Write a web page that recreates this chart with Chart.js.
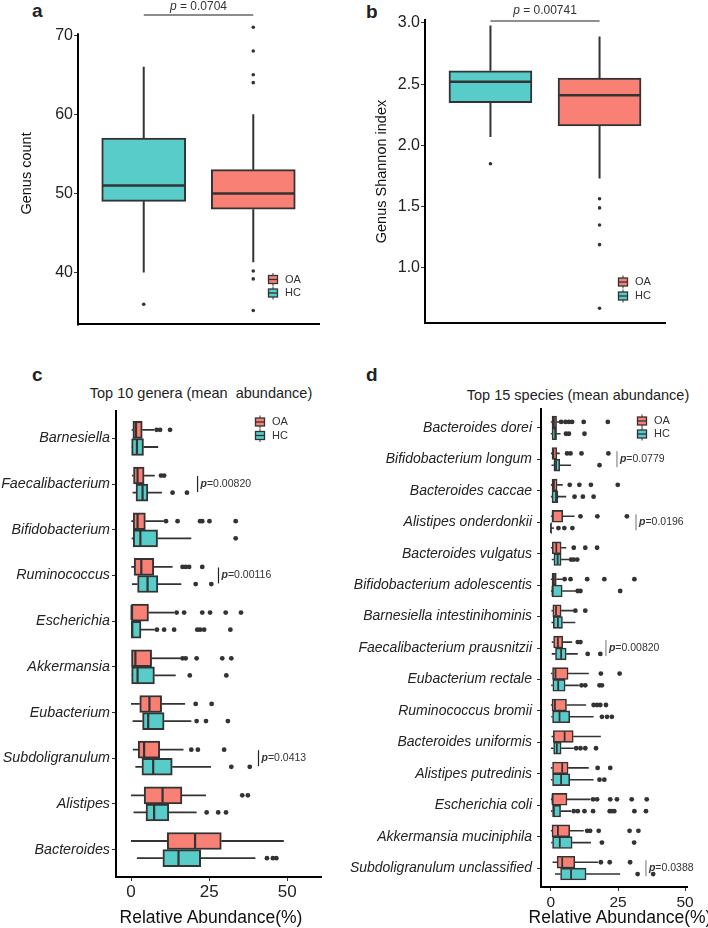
<!DOCTYPE html>
<html>
<head>
<meta charset="utf-8">
<script src="https://cdn.jsdelivr.net/npm/chart.js@4.4.1/dist/chart.umd.min.js"></script>
<style>
  body { margin: 0; width: 708px; height: 928px; background: #fff; position: relative; overflow: hidden;
         font-family: "Liberation Sans", Arial, Helvetica, sans-serif; color: #222; }
  canvas { position: absolute; }
  .letter { position: absolute; font-weight: bold; font-size: 19px; line-height: 20px; }
  .title { position: absolute; font-size: 14.5px; line-height: 16px; white-space: pre; transform: translateX(-50%); }
  .xtitle { position: absolute; font-size: 17.5px; line-height: 18px; white-space: pre; transform: translateX(-50%); color: #111; }
</style>
</head>
<body>
<div class="letter" style="left:32px;top:1px">a</div>
<div class="letter" style="left:366px;top:2px">b</div>
<div class="letter" style="left:32px;top:365px">c</div>
<div class="letter" style="left:366px;top:365px">d</div>
<div class="title" style="left:201px;top:385px">Top 10 genera (mean  abundance)</div>
<div class="title" style="left:578px;top:387px">Top 15 species (mean abundance)</div>

<canvas id="chartA" width="354" height="335" style="left:0;top:0"></canvas>
<canvas id="chartB" width="354" height="335" style="left:354px;top:0"></canvas>
<canvas id="chartC" width="330" height="588" style="left:0;top:340px"></canvas>
<canvas id="chartD" width="378" height="588" style="left:330px;top:340px"></canvas>

<div class="xtitle" style="left:211px;top:908px">Relative Abundance(%)</div>
<div class="xtitle" style="left:620px;top:908px">Relative Abundance(%)</div>

<script>
// ---- panel a: genus count (HC, OA) ----
const countLo  = [40, 41.3];
const countQ1  = [49, 48];
const countMed = [51, 50];
const countQ3  = [57, 53];
const countHi  = [66, 60];
const countOut = [[36], [71, 68, 65, 64, 40.2, 39.2, 35.2]];

// ---- panel b: genus Shannon index (HC, OA) ----
const shannonLo  = [2.07, 1.73];
const shannonQ1  = [2.35, 2.16];
const shannonMed = [2.52, 2.41];
const shannonQ3  = [2.61, 2.55];
const shannonHi  = [2.98, 2.89];
const shannonOut = [[1.85], [1.565, 1.49, 1.35, 1.19, 0.67]];

// ---- panel c: top 10 genera ----
const genera = ['Barnesiella', 'Faecalibacterium', 'Bifidobacterium', 'Ruminococcus', 'Escherichia',
  'Akkermansia', 'Eubacterium', 'Subdoligranulum', 'Alistipes', 'Bacteroides'];
const genOALo  = [0.2, 0.3, 0.1, 0.1, 0, 0, 0, 0.6, 0, 0];
const genOAQ1  = [0.6, 0.8, 0.7, 1.0, 0, 0, 2.8, 2.3, 4.2, 11.6];
const genOAMed = [1.6, 2.1, 2.1, 3.3, 0.2, 1.4, 5.9, 4.2, 10.1, 20.5];
const genOAQ3  = [3.6, 4.2, 4.6, 7.3, 5.6, 6.6, 9.8, 9.2, 16.3, 28.9];
const genOAHi  = [7.4, 7.6, 10.5, 13.3, 13.8, 15.9, 17.3, 16.8, 24.0, 48.9];
const genOAOut = [[8.2, 9.3, 12.5], [9.6, 10.6], [11.2, 14.9, 22.1, 22.8, 25.1, 33.5], [16.5, 17.5, 18.6, 22.8],
  [14.6, 17.0, 22.8, 25.3, 30.3, 35.2], [16.5, 17.5, 21.0, 29.2, 32.1], [20.7, 25.8], [19.3, 21.4, 29.8], [35.6, 37.4], []];
const genHCLo  = [0.1, 0.5, 0.2, 0.3, 0, 0.1, 0.5, 1.4, 0.8, 1.9];
const genHCQ1  = [0.2, 1.6, 0.7, 2.1, 0.1, 0.2, 3.7, 3.5, 4.8, 10.2];
const genHCMed = [1.9, 3.7, 3.0, 5.3, 0.4, 2.1, 5.5, 7.1, 7.4, 15.2];
const genHCQ3  = [4.0, 5.4, 8.5, 8.6, 3.2, 7.5, 10.6, 13.2, 12.1, 22.3];
const genHCHi  = [8.7, 9.9, 19.3, 16.1, 7.6, 14.3, 19.3, 25.6, 21.0, 39.8];
const genHCOut = [[], [13.3, 17.9], [33.5], [20.7, 25.7], [8.3, 10.6, 13.8, 21.2, 22.1, 23.4, 31.8],
  [18.8, 30.5], [21.0, 24.0, 31.0], [32.1, 38.0], [24.2, 27.9, 30.4], [43.5, 45.4, 46.5]];
const genP = [{cat: 2, at: 21.3, p: '0.00820'}, {cat: 4, at: 28.0, p: '0.00116'}, {cat: 8, at: 40.8, p: '0.0413'}];

// ---- panel d: top 15 species ----
const species = ['Bacteroides dorei', 'Bifidobacterium longum', 'Bacteroides caccae', 'Alistipes onderdonkii',
  'Bacteroides vulgatus', 'Bifidobacterium adolescentis', 'Barnesiella intestinihominis',
  'Faecalibacterium prausnitzii', 'Eubacterium rectale', 'Ruminococcus bromii', 'Bacteroides uniformis',
  'Alistipes putredinis', 'Escherichia coli', 'Akkermansia muciniphila', 'Subdoligranulum unclassified'];
const spOALo  = [0, 0, 0, 0, 0, 0, 0.2, 0.3, 0, 0, 0.2, 0, 0, 0, 0.6];
const spOAQ1  = [0.4, 0.4, 0.4, 0.4, 0.5, 0.4, 0.7, 1.0, 0.6, 0.4, 0.9, 0.6, 0.4, 0.4, 2.3];
const spOAMed = [1.1, 0.9, 1.1, 0.7, 2.0, 1.1, 1.9, 2.6, 1.7, 1.5, 5.1, 4.2, 0.6, 2.6, 4.2];
const spOAQ3  = [2.1, 2.2, 2.3, 4.4, 3.8, 2.0, 3.8, 4.4, 6.4, 5.8, 8.3, 6.4, 6.0, 7.0, 8.9];
const spOAHi  = [3.6, 3.3, 4.4, 8.8, 5.7, 4.3, 8.5, 7.9, 14.1, 13.1, 18.6, 14.1, 14.7, 12.2, 17.5];
const spOAOut = [[3.8, 5.4, 6.7, 7.9, 12.2, 21.2], [6.0, 7.3, 11.4, 21.4], [7.0, 10.6, 14.9, 24.9], [11.0, 17.3, 28.3],
  [8.5, 12.8, 17.2], [5.1, 7.3, 13.5, 19.9, 31.1], [9.1, 12.8], [10.0, 11.0], [18.6, 25.6], [15.9, 17.2, 18.4, 20.5],
  [], [17.4, 22.1], [15.7, 17.2, 22.1, 24.6, 30.1, 35.7], [13.5, 14.6, 17.8, 29.3, 32.6], [18.6, 21.9, 29.5]];
const spHCLo  = [0, 0.2, 0, 0, 0.3, 0, 0.2, 0.3, 0.1, 0.1, 0, 0, 0, 0.1, 1.5];
const spHCQ1  = [0.4, 1.1, 0.4, 0, 1.1, 0.4, 0.9, 1.7, 0.7, 0.6, 1.0, 0.6, 0.6, 0.6, 3.6];
const spHCMed = [1.6, 1.9, 1.9, 0, 2.5, 0.6, 2.6, 3.8, 2.7, 3.2, 2.2, 3.8, 1.1, 3.3, 7.5];
const spHCQ3  = [2.1, 3.3, 2.6, 0.1, 3.8, 4.2, 4.3, 5.7, 5.3, 7.0, 3.8, 7.0, 3.6, 7.9, 13.1];
const spHCHi  = [3.6, 7.5, 5.7, 1.1, 6.7, 9.4, 9.1, 10.0, 10.4, 15.9, 8.5, 15.9, 7.5, 14.9, 25.8];
const spHCOut = [[5.6, 6.7, 12.5], [18.1], [8.8, 11.9, 15.9], [2.8, 5.0, 8.0], [7.5, 8.5, 9.8], [10.0, 11.0, 25.8],
  [], [13.7, 18.4], [11.4, 12.8, 18.1, 19.0], [19.0, 20.9, 22.7], [9.4, 11.0, 12.8, 16.8], [18.1, 19.9],
  [8.5, 10.0, 12.5, 15.7, 21.9, 22.7, 23.6, 31.1, 35.4], [19.0, 31.0], [32.3, 38.1]];
const spP = [{cat: 2, at: 24.6, p: '0.0779'}, {cat: 4, at: 31.7, p: '0.0196'},
  {cat: 8, at: 20.5, p: '0.00820'}, {cat: 15, at: 35.4, p: '0.0388'}];

const OA_COLOR = '#F98075', HC_COLOR = '#58CCC9', EDGE = '#333';
const FONT = '"Liberation Sans", Arial, Helvetica, sans-serif';
Chart.defaults.font.family = FONT;
Chart.defaults.color = '#222';

function drawP(ctx, rest, x, y, align, bold, size) {
  const pFont = (bold ? 'italic bold ' : 'italic ') + size + 'px ' + FONT;
  const rFont = size + 'px ' + FONT;
  ctx.font = pFont; const wp = ctx.measureText('p').width;
  ctx.font = rFont; const wr = ctx.measureText(rest).width;
  let x0 = align === 'center' ? x - (wp + wr) / 2 : x;
  ctx.fillStyle = '#333';
  ctx.textAlign = 'left';
  ctx.textBaseline = 'middle';
  ctx.font = pFont; ctx.fillText('p', x0, y);
  ctx.font = rFont; ctx.fillText(rest, x0 + wp, y);
}

// whiskers, medians, legend and p-values, all placed through the chart scales
const boxPlugin = {
  id: 'boxes',
  afterDatasetsDraw(chart, args, o) {
    const ctx = chart.ctx;
    const area = chart.chartArea;
    const X = v => chart.scales.x.getPixelForValue(v);
    const Y = v => chart.scales.y.getPixelForValue(v);
    const half = o.thickness / 2;
    ctx.save();

    // y axis line that stops below the top of the plot area
    if (o.axisFrom != null) {
      ctx.strokeStyle = '#000';
      ctx.lineWidth = 2;
      ctx.beginPath(); ctx.moveTo(area.left, Y(o.axisFrom)); ctx.lineTo(area.left, area.bottom + 1); ctx.stroke();
    }

    ctx.strokeStyle = EDGE;
    o.groups.forEach(g => g.pos.forEach((p, i) => {
      ctx.lineWidth = o.whisker;
      ctx.beginPath();
      if (o.horizontal) {
        const c = Y(p);
        ctx.moveTo(X(g.lo[i]), c); ctx.lineTo(X(g.q1[i]), c);
        ctx.moveTo(X(g.q3[i]), c); ctx.lineTo(X(g.hi[i]), c);
      } else {
        const c = X(p);
        ctx.moveTo(c, Y(g.lo[i])); ctx.lineTo(c, Y(g.q1[i]));
        ctx.moveTo(c, Y(g.q3[i])); ctx.lineTo(c, Y(g.hi[i]));
      }
      ctx.stroke();
      ctx.lineWidth = o.median;
      ctx.beginPath();
      if (o.horizontal) {
        const c = Y(p), m = X(g.med[i]);
        ctx.moveTo(m, c - half + 1); ctx.lineTo(m, c + half - 1);
      } else {
        const c = X(p), m = Y(g.med[i]);
        ctx.moveTo(c - half + 1, m); ctx.lineTo(c + half - 1, m);
      }
      ctx.stroke();
    }));

    if (o.legend) {
      const {x, y, gap} = o.legend;
      [['OA', OA_COLOR], ['HC', HC_COLOR]].forEach(([t, col], k) => {
        const cy = y + k * gap;
        ctx.strokeStyle = EDGE;
        ctx.lineWidth = 1;
        ctx.beginPath(); ctx.moveTo(x, cy - 6.5); ctx.lineTo(x, cy + 6.5); ctx.stroke();
        ctx.fillStyle = col;
        ctx.fillRect(x - 4.5, cy - 4, 9, 8);
        ctx.lineWidth = 1.3;
        ctx.strokeRect(x - 4.5, cy - 4, 9, 8);
        ctx.beginPath(); ctx.moveTo(x - 4.5, cy); ctx.lineTo(x + 4.5, cy); ctx.stroke();
        ctx.fillStyle = '#333';
        ctx.font = '11px ' + FONT;
        ctx.textAlign = 'left';
        ctx.textBaseline = 'middle';
        ctx.fillText(t, x + 12, cy);
      });
    }

    if (o.bracket) {
      const b = o.bracket;
      const x1 = X(1), x2 = X(2);
      ctx.strokeStyle = b.color;
      ctx.lineWidth = b.width;
      ctx.beginPath(); ctx.moveTo(x1, b.y); ctx.lineTo(x2, b.y); ctx.stroke();
      drawP(ctx, ' = ' + b.p, (x1 + x2) / 2, b.ty, 'center', false, 12);
    }

    (o.pvals || []).forEach(pv => {
      const x = X(pv.at), c = Y(pv.cat);
      ctx.strokeStyle = o.pColor;
      ctx.lineWidth = 1.2;
      ctx.beginPath(); ctx.moveTo(x, c - 8); ctx.lineTo(x, c + 8); ctx.stroke();
      drawP(ctx, '=' + pv.p, x + 3, c, 'left', true, 10.5);
    });
    ctx.restore();
  }
};

function boxChart(id, o) {
  const horiz = o.horizontal;
  const datasets = o.groups.map(g => ({
    type: 'bar',
    indexAxis: horiz ? 'y' : 'x',
    data: g.pos.map((p, i) => horiz ? {x: [g.q1[i], g.q3[i]], y: p} : {x: p, y: [g.q1[i], g.q3[i]]}),
    backgroundColor: g.color,
    borderColor: EDGE,
    borderWidth: o.edge,
    borderSkipped: false,
    barThickness: o.thickness,
    grouped: false,
    order: 2
  }));
  datasets.push({
    type: 'scatter',
    data: o.groups.flatMap(g => g.out.flatMap((vals, i) =>
      vals.map(v => horiz ? {x: v, y: g.pos[i]} : {x: g.pos[i], y: v}))),
    pointRadius: o.dot,
    pointHoverRadius: o.dot,
    backgroundColor: EDGE,
    borderWidth: 0,
    clip: false,
    order: 1
  });

  const valueTicks = (vals, fmt, size, style) => ({
    afterBuildTicks: s => { s.ticks = vals.map(v => ({value: v})); },
    ticks: {callback: fmt, font: {size: size, style: style || 'normal'}, color: '#222',
            padding: o.tickPad, autoSkip: false, maxRotation: 0}
  });

  const xAxis = Object.assign({
    type: 'linear', min: o.xRange[0], max: o.xRange[1], offset: false,
    afterFit: s => { s.height = o.xHeight; },
    grid: {display: horiz, drawOnChartArea: false, offset: false, tickLength: 4, color: EDGE},
    border: {display: true, color: '#000', width: 2}
  }, horiz ? valueTicks(o.xTicks, v => v, o.xFont) : {ticks: {display: false}});

  const yAxis = Object.assign({
    type: 'linear', min: o.yRange[0], max: o.yRange[1], reverse: horiz, offset: false,
    afterFit: s => { s.width = o.yWidth; },
    grid: {display: true, drawOnChartArea: false, offset: false, tickLength: 4, color: EDGE},
    border: {display: o.axisFrom == null, color: '#000', width: 2},
    title: o.yTitle ? {display: true, text: o.yTitle, font: {size: 14.5}, color: '#111',
                       padding: {top: o.yTitlePad, bottom: 0}} : {display: false}
  }, valueTicks(o.yTicks, o.yFormat, o.yFont, horiz ? 'italic' : 'normal'));
  yAxis.ticks.padding = o.yPad;

  return new Chart(document.getElementById(id), {
    type: 'bar',
    data: {datasets},
    options: {
      responsive: false,
      animation: false,
      devicePixelRatio: 1,
      layout: {padding: o.padding},
      scales: {x: xAxis, y: yAxis},
      plugins: {
        legend: {display: false},
        tooltip: {enabled: false},
        boxes: {
          groups: o.groups, horizontal: horiz, thickness: o.thickness,
          whisker: o.whisker, median: o.median, legend: o.legend, axisFrom: o.axisFrom,
          bracket: o.bracket, pvals: o.pvals, pColor: o.pColor
        }
      }
    },
    plugins: [boxPlugin]
  });
}

const idx = arr => arr.map((_, i) => i + 1);
const shift = (arr, d) => arr.map((_, i) => i + 1 + d);

boxChart('chartA', {
  horizontal: false,
  groups: [{pos: [1, 2], color: [HC_COLOR, OA_COLOR], lo: countLo, q1: countQ1, med: countMed,
            q3: countQ3, hi: countHi, out: countOut}],
  thickness: 84, edge: 2, whisker: 2, median: 2.6, dot: 1.8,
  xRange: [0.4, 2.6], yRange: [33.45, 71.6], yTicks: [40, 50, 60, 70], yFormat: v => v, yFont: 16,
  yWidth: 78, xHeight: 10, yTitle: 'Genus count', yTitlePad: 18, tickPad: 1, yPad: 1, axisFrom: 70.25,
  padding: {top: 22.5, right: 35, left: 0, bottom: 0},
  legend: {x: 273, y: 279.5, gap: 13.5},
  bracket: {p: '0.0704', y: 15, ty: 6.5, color: '#8c8c8c', width: 2}
});

boxChart('chartB', {
  horizontal: false,
  groups: [{pos: [1, 2], color: [HC_COLOR, OA_COLOR], lo: shannonLo, q1: shannonQ1, med: shannonMed,
            q3: shannonQ3, hi: shannonHi, out: shannonOut}],
  thickness: 83, edge: 2, whisker: 2, median: 2.6, dot: 1.8,
  xRange: [0.4, 2.6], yRange: [0.55, 3.0245], yTicks: [1.0, 1.5, 2.0, 2.5, 3.0], yFormat: v => v.toFixed(1),
  yFont: 16, yWidth: 71, xHeight: 12, yTitle: 'Genus Shannon index', yTitlePad: 19, tickPad: 1, yPad: 1,
  padding: {top: 20, right: 43, left: 0, bottom: 0},
  legend: {x: 269, y: 282, gap: 14},
  bracket: {p: '0.00741', y: 21, ty: 11, color: '#222', width: 1.2}
});

boxChart('chartC', {
  horizontal: true,
  groups: [
    {pos: shift(genera, -0.1875), color: OA_COLOR, lo: genOALo, q1: genOAQ1, med: genOAMed, q3: genOAQ3, hi: genOAHi, out: genOAOut},
    {pos: shift(genera, 0.1875), color: HC_COLOR, lo: genHCLo, q1: genHCQ1, med: genHCMed, q3: genHCQ3, hi: genHCHi, out: genHCOut}
  ],
  thickness: 17, edge: 2, whisker: 1.8, median: 2.2, dot: 2.4,
  xRange: [-4.8, 60.8], xTicks: [0, 25, 50], xFont: 17, yRange: [0.4, genera.length + 0.6], yTicks: idx(genera),
  yFormat: v => genera[v - 1], yFont: 14.3, yWidth: 116, xHeight: 51,
  tickPad: 1, yPad: 2,
  padding: {top: 71, right: 9, left: 0, bottom: 0},
  legend: {x: 260, y: 82, gap: 13.5},
  pvals: genP, pColor: '#222'
});

boxChart('chartD', {
  horizontal: true,
  groups: [
    {pos: shift(species, -0.1875), color: OA_COLOR, lo: spOALo, q1: spOAQ1, med: spOAMed, q3: spOAQ3, hi: spOAHi, out: spOAOut},
    {pos: shift(species, 0.1875), color: HC_COLOR, lo: spHCLo, q1: spHCQ1, med: spHCMed, q3: spHCQ3, hi: spHCHi, out: spHCOut}
  ],
  thickness: 11.8, edge: 1.6, whisker: 1.6, median: 1.8, dot: 2.4,
  xRange: [-3.7, 50.7], xTicks: [0, 25, 50], xFont: 15.5, yRange: [0.4, species.length + 0.6], yTicks: idx(species),
  yFormat: v => species[v - 1], yFont: 14, yWidth: 211, xHeight: 41,
  tickPad: 2, yPad: 5,
  padding: {top: 69, right: 21, left: 0, bottom: 0},
  legend: {x: 312, y: 81, gap: 13},
  pvals: spP, pColor: '#888'
});
</script>
</body>
</html>
